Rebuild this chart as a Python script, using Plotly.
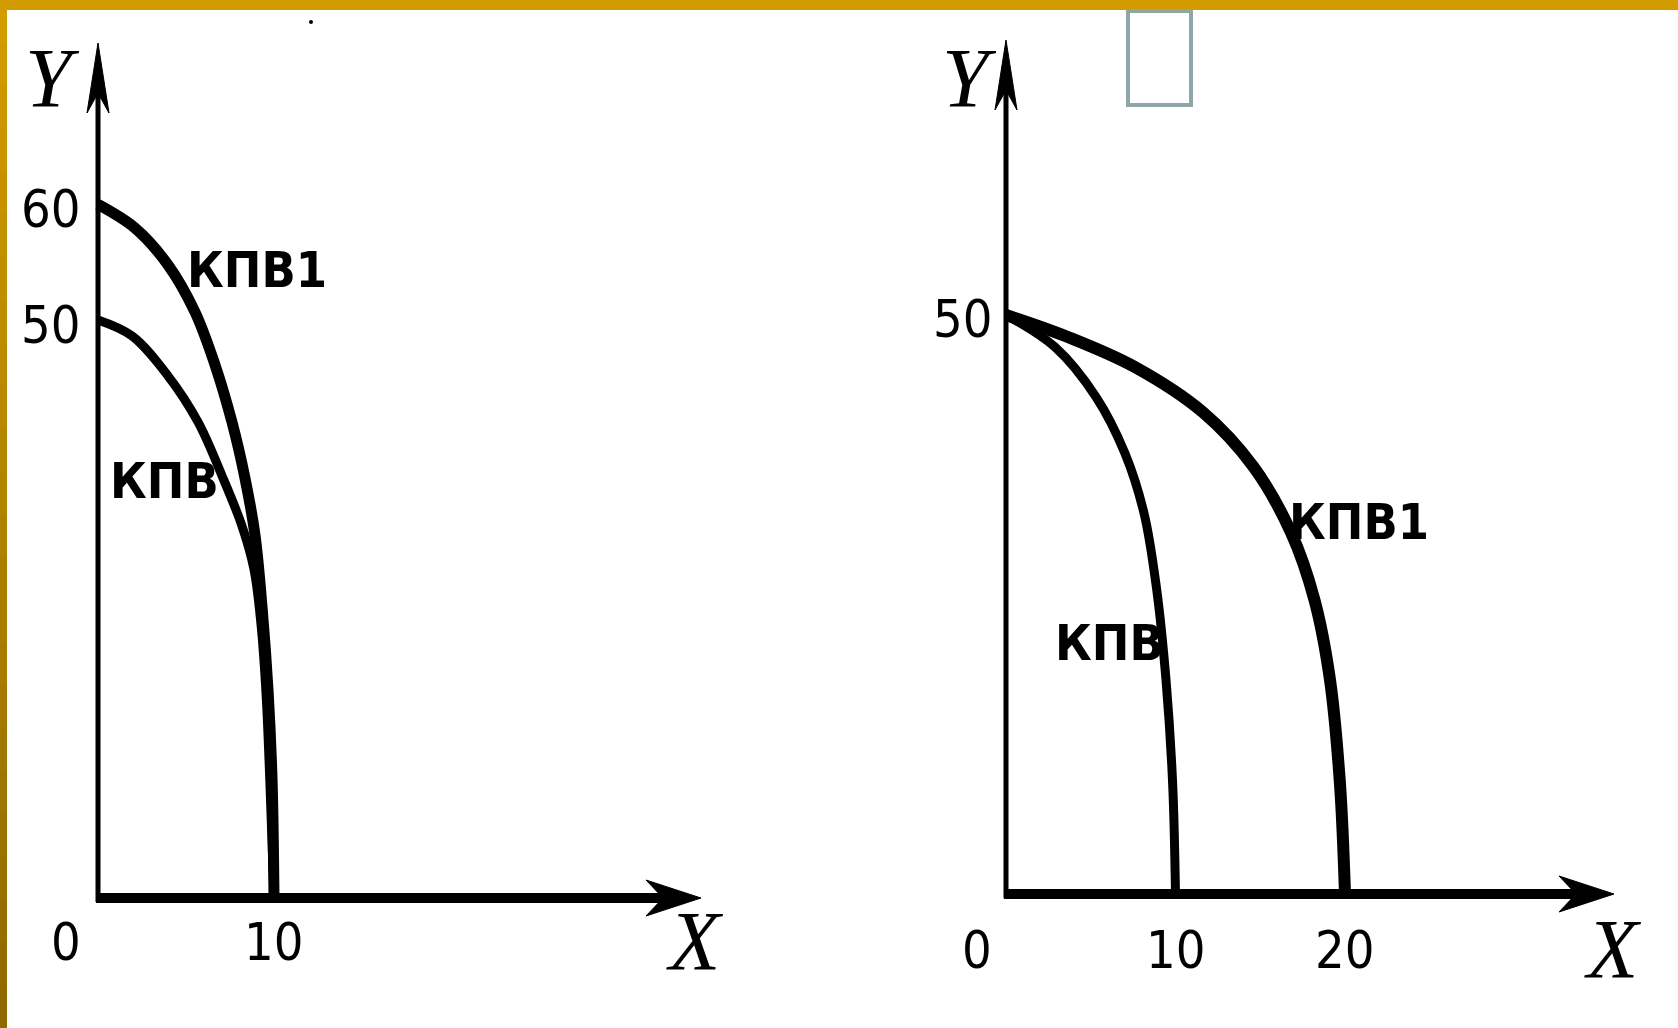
import plotly.graph_objects as go

# ---------------- data ----------------
# Left panel: PPF shifts outward along Y only (Y max 50 -> 60, X max stays 10)
left_kpv_x = [0, 1.93, 3.98, 5.68, 7.05, 8.18, 8.86, 9.26, 9.55, 9.77, 10.0]
left_kpv_y = [50, 48.62, 45.16, 41.18, 36.51, 32.18, 28.46, 23.70, 17.65, 9.86, 0]
left_kpv1_x = [0, 2.10, 3.98, 5.51, 6.65, 7.61, 8.35, 8.92, 9.32, 9.66, 9.89, 10.0]
left_kpv1_y = [60, 57.96, 54.76, 50.69, 46.11, 41.18, 36.33, 31.40, 25.17, 17.99, 10.21, 0]

# Right panel: PPF shifts outward along X only (X max 10 -> 20, Y max stays 50)
right_kpv_x = [0, 2.88, 5.31, 7.01, 8.14, 8.87, 9.44, 9.83, 10.0]
right_kpv_y = [50, 47.24, 42.92, 38.08, 32.90, 26.51, 18.48, 9.59, 0]
right_kpv1_x = [0, 3.65, 7.60, 11.62, 14.61, 16.83, 18.20, 19.10, 19.70, 20.0]
right_kpv1_y = [50, 48.10, 45.51, 41.60, 36.87, 31.17, 25.39, 18.65, 9.59, 0]

left_x_ticks = [0, 10]
left_y_ticks = [60, 50]
right_x_ticks = [0, 10, 20]
right_y_ticks = [50]

curve_names = ["КПВ", "КПВ1"]
axis_names = ["X", "Y"]

# ---------------- layout helpers ----------------
W, H = 1678, 1028
L = dict(ox=98, oy=898, sx=17.6, sy=11.56, xd=(0.0, 0.5))
R = dict(ox=1006, oy=894, sx=16.95, sy=11.58, xd=(0.5, 1.0))


def xrange_of(p):
    x0 = p["xd"][0] * W
    x1 = p["xd"][1] * W
    return [(x0 - p["ox"]) / p["sx"], (x1 - p["ox"]) / p["sx"]]


def yrange_of(p):
    return [(p["oy"] - H) / p["sy"], p["oy"] / p["sy"]]


def dx(p, px):
    return px / p["sx"]


def dy(p, py):
    return py / p["sy"]


fig = go.Figure()

BLACK = "#000000"


def curve(xs, ys, xa, ya, width, name):
    return go.Scatter(x=xs, y=ys, mode="lines",
                      line=dict(color=BLACK, width=width, shape="spline", smoothing=1.0),
                      xaxis=xa, yaxis=ya, name=name, hoverinfo="skip")


fig.add_trace(curve(left_kpv_x, left_kpv_y, "x", "y", 9, curve_names[0]))
fig.add_trace(curve(left_kpv1_x, left_kpv1_y, "x", "y", 11, curve_names[1]))
fig.add_trace(curve(right_kpv_x, right_kpv_y, "x2", "y2", 9, curve_names[0]))
fig.add_trace(curve(right_kpv1_x, right_kpv1_y, "x2", "y2", 12, curve_names[1]))

shapes = []
annotations = []

NUM_FONT = dict(family="Liberation Sans Narrow, Arial Narrow, DejaVu Sans Condensed, sans-serif",
                size=52, color=BLACK)
LBL_FONT = dict(family="Liberation Sans Narrow, Arial Narrow, DejaVu Sans Condensed, sans-serif",
                size=50, color=BLACK, weight="bold")
AX_FONT = dict(family="Liberation Serif, DejaVu Serif, serif", size=84, color=BLACK)

for p, xa, ya, xtip_px, ytip_px in [(L, "x", "y", 701, 43), (R, "x2", "y2", 1614, 40)]:
    x_tip = (xtip_px - p["ox"]) / p["sx"]
    y_tip = (p["oy"] - ytip_px) / p["sy"]
    # y axis line
    shapes.append(dict(type="line", xref=xa, yref=ya, x0=0, y0=-dy(p, 4), x1=0, y1=y_tip - dy(p, 30),
                       line=dict(color=BLACK, width=5)))
    # x axis line
    shapes.append(dict(type="line", xref=xa, yref=ya, x0=-dx(p, 2), y0=0, x1=x_tip - dx(p, 30), y1=0,
                       line=dict(color=BLACK, width=10)))
    # x arrow head
    path = (f"M {x_tip},0 L {x_tip - dx(p, 55)},{dy(p, 18)} L {x_tip - dx(p, 38)},0 "
            f"L {x_tip - dx(p, 55)},{-dy(p, 18)} Z")
    shapes.append(dict(type="path", xref=xa, yref=ya, path=path,
                       fillcolor=BLACK, line=dict(color=BLACK, width=1)))
    # y arrow head
    path = (f"M 0,{y_tip} L {dx(p, 11)},{y_tip - dy(p, 70)} L 0,{y_tip - dy(p, 50)} "
            f"L {-dx(p, 11)},{y_tip - dy(p, 70)} Z")
    shapes.append(dict(type="path", xref=xa, yref=ya, path=path,
                       fillcolor=BLACK, line=dict(color=BLACK, width=1)))

# tick labels
for v in left_x_ticks:
    annotations.append(dict(x=v, y=0, xref="x", yref="y", text=str(v), showarrow=False,
                            xshift=(-32 if v == 0 else 0), yshift=-44, font=NUM_FONT,
                            xanchor="center", yanchor="middle"))
for v in left_y_ticks:
    annotations.append(dict(x=0, y=v, xref="x", yref="y", text=str(v), showarrow=False,
                            xshift=-47, yshift=-5, font=NUM_FONT, xanchor="center", yanchor="middle"))
for v in right_x_ticks:
    annotations.append(dict(x=v, y=0, xref="x2", yref="y2", text=str(v), showarrow=False,
                            xshift=(-29 if v == 0 else 0), yshift=-56, font=NUM_FONT,
                            xanchor="center", yanchor="middle"))
for v in right_y_ticks:
    annotations.append(dict(x=0, y=v, xref="x2", yref="y2", text=str(v), showarrow=False,
                            xshift=-43, yshift=-4, font=NUM_FONT, xanchor="center", yanchor="middle"))


def paper_pt(px, py):
    return px / W, 1 - py / H


# curve labels (pixel positions)
for txt, (px, py) in [(curve_names[1], (257, 270)), (curve_names[0], (164, 481)),
                      (curve_names[1], (1359, 522)), (curve_names[0], (1109, 643))]:
    x, y = paper_pt(px, py)
    annotations.append(dict(x=x, y=y, xref="paper", yref="paper", text=txt, showarrow=False,
                            font=LBL_FONT, xanchor="center", yanchor="middle"))

# axis names
for txt, (px, py) in [(axis_names[1], (52, 79)), (axis_names[0], (695, 941)),
                      (axis_names[1], (969, 79)), (axis_names[0], (1613, 949))]:
    x, y = paper_pt(px, py)
    annotations.append(dict(x=x, y=y, xref="paper", yref="paper", text=f"<i>{txt}</i>",
                            showarrow=False, font=AX_FONT, xanchor="center", yanchor="middle"))

# slide decorations: gold frame (top + gradient left), grey placeholder box, small dot
n = 24
c0 = (0xD2, 0x9B, 0x00)
c1 = (0x8F, 0x6A, 0x00)
for i in range(n):
    t = i / (n - 1)
    col = "rgb({},{},{})".format(*[round(a + (b - a) * t) for a, b in zip(c0, c1)])
    shapes.append(dict(type="rect", xref="paper", yref="paper", x0=0, x1=7 / W,
                       y0=max(0, 1 - (i + 1) / n - 0.004), y1=1 - i / n, fillcolor=col,
                       line=dict(width=0), layer="above"))
shapes.append(dict(type="rect", xref="paper", yref="paper", x0=0, x1=1, y0=1 - 10 / H, y1=1,
                   fillcolor="#D29B00", line=dict(width=0), layer="above"))
x0, y0 = paper_pt(1128, 11)
x1, y1 = paper_pt(1191, 105)
shapes.append(dict(type="rect", xref="paper", yref="paper", x0=x0, x1=x1, y0=y1, y1=y0,
                   fillcolor="rgba(0,0,0,0)", line=dict(color="#8FA5A8", width=4)))
x0, y0 = paper_pt(309, 20)
x1, y1 = paper_pt(313, 24)
shapes.append(dict(type="circle", xref="paper", yref="paper", x0=x0, x1=x1, y0=y1, y1=y0,
                   fillcolor=BLACK, line=dict(width=0)))

hidden = dict(visible=False, showgrid=False, zeroline=False, fixedrange=True)
fig.update_layout(
    width=W, height=H,
    margin=dict(l=0, r=0, t=0, b=0),
    paper_bgcolor="white", plot_bgcolor="white",
    showlegend=False,
    xaxis=dict(domain=list(L["xd"]), range=xrange_of(L), anchor="y", **hidden),
    yaxis=dict(domain=[0, 1], range=yrange_of(L), anchor="x", **hidden),
    xaxis2=dict(domain=list(R["xd"]), range=xrange_of(R), anchor="y2", **hidden),
    yaxis2=dict(domain=[0, 1], range=yrange_of(R), anchor="x2", **hidden),
    shapes=shapes,
    annotations=annotations,
)

fig.write_html("out.html", config={"displayModeBar": False},
               post_script="document.body.style.margin='0';document.body.style.overflow='hidden';")
